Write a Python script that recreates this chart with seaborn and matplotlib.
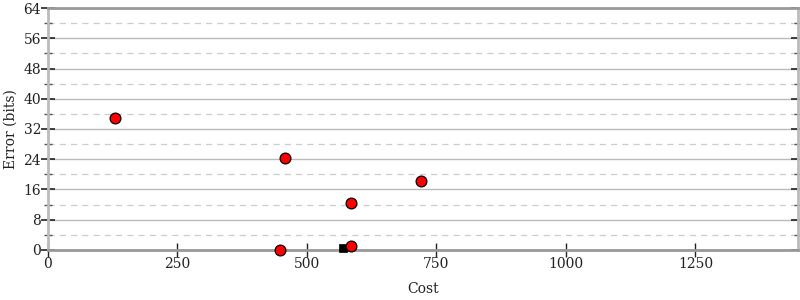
import matplotlib
matplotlib.use("Agg")
import matplotlib.pyplot as plt
import seaborn as sns
import pandas as pd
from matplotlib.ticker import MultipleLocator

cost = [129, 457, 720, 585, 448, 585]
error = [35.0, 24.3, 18.2, 12.4, 0.0, 1.0]
best_cost = [570]
best_error = [0.4]

sns.set_theme(style="white")
plt.rcParams['font.family'] = ['DejaVu Serif']

fig, ax = plt.subplots(figsize=(8, 3), dpi=100)
fig.subplots_adjust(left=0.06, right=0.9975, top=0.973, bottom=0.167)

df = pd.DataFrame({"Cost": cost, "Error": error})
dfb = pd.DataFrame({"Cost": best_cost, "Error": best_error})

ax.set_xlim(0, 1448)
ax.set_ylim(0, 64)
ax.yaxis.set_major_locator(MultipleLocator(8))
ax.yaxis.set_minor_locator(MultipleLocator(4))
ax.xaxis.set_major_locator(MultipleLocator(250))
ax.grid(which='major', axis='y', color='#bbbbbb', linewidth=1, linestyle='-')
ax.grid(which='minor', axis='y', color='#cccccc', linewidth=0.9, linestyle=(0, (5, 4)))
ax.set_axisbelow(True)

sns.scatterplot(data=dfb, x="Cost", y="Error", marker='s', color='black', s=40,
                edgecolor='black', ax=ax, zorder=3, clip_on=False)
sns.scatterplot(data=df, x="Cost", y="Error", color='red', s=60,
                edgecolor='black', linewidth=0.9, ax=ax, zorder=4, clip_on=False)

for side in ['left', 'right']:
    ax.spines[side].set_color('#bbbbbb')
    ax.spines[side].set_linewidth(2)
for side in ['top', 'bottom']:
    ax.spines[side].set_color('#999999')
    ax.spines[side].set_linewidth(2)

ax.tick_params(axis='y', which='major', left=True, right=True, direction='inout',
               length=10, width=1.2, color='#222222', labelsize=10, pad=0,
               labelcolor='#222222')
ax.tick_params(axis='y', which='minor', left=True, right=True, direction='inout',
               length=6, width=1, color='#555555')
ax.tick_params(axis='x', which='major', bottom=True, direction='inout', length=10,
               width=1, color='#222222', labelsize=10, pad=0, labelcolor='#222222')

ax.set_xlabel("Cost", fontsize=10, labelpad=8, color='#222222')
ax.set_ylabel("Error (bits)", fontsize=10, labelpad=4, color='#222222')

fig.savefig("out.png", dpi=100)
